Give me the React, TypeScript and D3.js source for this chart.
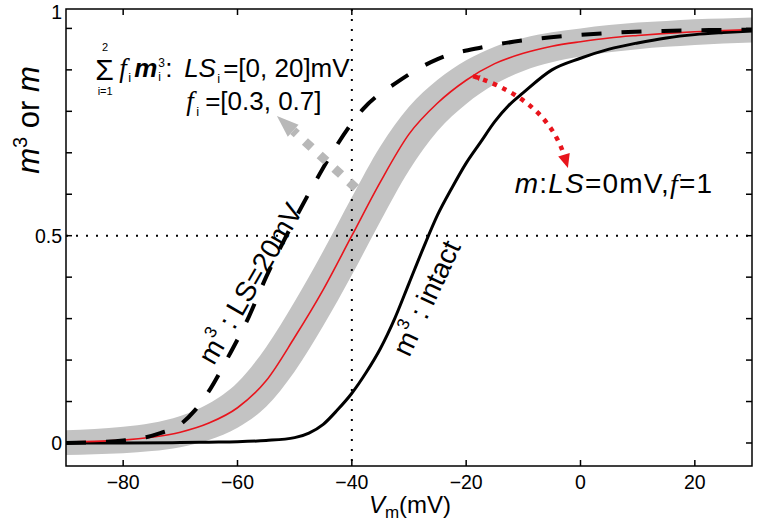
import React from "react";
import * as d3 from "d3";

// ---- data ----
const vGrid = [-90, -85, -80, -75, -70, -65, -60, -55, -50, -45, -40, -35, -30, -25, -20, -15, -10, -5, 0, 5, 10, 15, 20, 25, 30];
const mRed = [0.002, 0.004, 0.007, 0.014, 0.026, 0.048, 0.085, 0.15, 0.255, 0.37, 0.5, 0.63, 0.745, 0.82, 0.875, 0.915, 0.94, 0.957, 0.968, 0.977, 0.983, 0.988, 0.992, 0.995, 0.997];
const bandHigh = [0.031, 0.034, 0.039, 0.048, 0.065, 0.095, 0.146, 0.231, 0.341, 0.463, 0.593, 0.716, 0.811, 0.876, 0.923, 0.956, 0.977, 0.991, 1.0, 1.008, 1.014, 1.018, 1.022, 1.024, 1.026];
const bandLow = [-0.029, -0.027, -0.0245, -0.0195, -0.01, 0.007, 0.0365, 0.0875, 0.1725, 0.2825, 0.405, 0.535, 0.6575, 0.7525, 0.8175, 0.865, 0.8975, 0.9185, 0.9325, 0.9425, 0.95, 0.9555, 0.96, 0.9635, 0.966];

const vIntact = [-90, -80, -70, -65, -60, -55, -50, -47.5, -45, -42.5, -40, -37.5, -35, -32.5, -30, -27.5, -25, -22.5, -20, -17.5, -15, -12.5, -10, -5, 0, 5, 10, 15, 20, 25, 30];
const m3Intact = [0, 0, 0.001, 0.002, 0.003, 0.006, 0.013, 0.024, 0.045, 0.08, 0.12, 0.17, 0.228, 0.3, 0.385, 0.47, 0.55, 0.615, 0.675, 0.725, 0.775, 0.815, 0.845, 0.9, 0.928, 0.95, 0.965, 0.977, 0.985, 0.99, 0.994];

const vLS20 = [-90, -85, -80, -76, -73.5, -70.5, -67.5, -65, -62, -58, -55, -51, -47, -43, -38, -32, -25, -17, -9.5, -1.5, 6.5, 14.5, 22.5, 30];
const m3LS20 = [0, 0.002, 0.006, 0.014, 0.024, 0.04, 0.078, 0.125, 0.198, 0.305, 0.4, 0.512, 0.615, 0.71, 0.806, 0.871, 0.926, 0.955, 0.972, 0.983, 0.99, 0.994, 0.996, 0.997];

const xTicks = [-80, -60, -40, -20, 0, 20];
const yTicks = [0, 0.1, 0.2, 0.3, 0.4, 0.5, 0.6, 0.7, 0.8, 0.9, 1];
const yLabels = ["0", "0.5", "1"];

const W = 758, H = 532;
const L = 66, R = 752, T = 9, B = 466;

export default function App() {
  const x = d3.scaleLinear().domain([-90, 30]).range([L, R]);
  const y = d3.scaleLinear().domain([-0.0555, 1.0468]).range([B, T]);

  const lineXY = (vs: number[], ms: number[]) =>
    d3.line<number>().x((_, i) => x(vs[i])).y((d) => y(d)).curve(d3.curveMonotoneX)(ms) || "";

  const band = d3
    .area<number>()
    .x((d) => x(d))
    .y0((_, i) => y(bandLow[i]))
    .y1((_, i) => y(bandHigh[i]))
    .curve(d3.curveMonotoneX)(vGrid) || "";

  const sans = "'Liberation Sans', Arial, Helvetica, sans-serif";
  const serif = "'Liberation Serif', 'Times New Roman', serif";

  // arrows (data coords)
  const gA = { x: x(-39.3), y: y(0.615) };
  const gB = { x: x(-53.1), y: y(0.789) };
  const gdx = gB.x - gA.x, gdy = gB.y - gA.y;
  const glen = Math.hypot(gdx, gdy);
  const ux = gdx / glen, uy = gdy / glen;
  const headLen = 22, headW = 8;
  const gBase = { x: gB.x - ux * headLen, y: gB.y - uy * headLen };
  const gHead = `M${gB.x},${gB.y} L${gBase.x - uy * headW},${gBase.y + ux * headW} L${gBase.x + uy * headW},${gBase.y - ux * headW} Z`;

  const rS = { x: x(-18.8), y: y(0.885) };
  const rC = { x: x(-5.7), y: y(0.827) };
  const rE = { x: x(-2.2), y: y(0.663) };
  const rdx = rE.x - rC.x, rdy = rE.y - rC.y;
  const rl = Math.hypot(rdx, rdy);
  const rux = rdx / rl, ruy = rdy / rl;
  const rHL = 14, rHW = 6;
  const rBase = { x: rE.x - rux * rHL, y: rE.y - ruy * rHL };
  const rHead = `M${rE.x},${rE.y} L${rBase.x - ruy * rHW},${rBase.y + rux * rHW} L${rBase.x + ruy * rHW},${rBase.y - rux * rHW} Z`;
  const rPathEnd = { x: rE.x - rux * 10, y: rE.y - ruy * 10 };
  const sdx = rS.x - rC.x, sdy = rS.y - rC.y;
  const sl = Math.hypot(sdx, sdy);
  const sux = sdx / sl, suy = sdy / sl;
  const sBase = { x: rS.x - sux * 7, y: rS.y - suy * 7 };
  const sHead = `M${rS.x},${rS.y} L${sBase.x - suy * 3},${sBase.y + sux * 3} L${sBase.x + suy * 3},${sBase.y - sux * 3} Z`;

  const ls20 = { x: x(-57.8), y: y(0.385) };
  const intact = { x: x(-27.0), y: y(0.35) };
  const fx = x(-84.9), fy = y(0.883);
  const rl0 = { x: x(-11.5), y: y(0.603) };

  return (
    <svg width={W} height={H} style={{ display: "block", position: "absolute", left: 0, top: 0, background: "#fff" }}>
      <defs>
        <clipPath id="plot">
          <rect x={L} y={T} width={R - L} height={B - T} />
        </clipPath>
      </defs>
      <rect x={0} y={0} width={W} height={H} fill="#fff" />
      <g clipPath="url(#plot)">
        <path d={band} fill="#c3c3c3" stroke="none" />
        <line x1={x(-40)} x2={x(-40)} y1={T} y2={B} stroke="#000" strokeWidth={2} strokeDasharray="2,8" />
        <line x1={L} x2={R} y1={y(0.5)} y2={y(0.5)} stroke="#000" strokeWidth={2} strokeDasharray="2,8" />
        <path d={lineXY(vIntact, m3Intact)} fill="none" stroke="#000" strokeWidth={3} />
        <path d={lineXY(vGrid, mRed)} fill="none" stroke="#e8141c" strokeWidth={1.6} />
        <path d={lineXY(vLS20, m3LS20)} fill="none" stroke="#000" strokeWidth={4} strokeDasharray="20,20" />
      </g>

      {/* gray dotted arrow */}
      <line x1={gA.x} y1={gA.y} x2={gBase.x} y2={gBase.y} stroke="#b8b8b8" strokeWidth={9} strokeDasharray="9,11" />
      <path d={gHead} fill="#b8b8b8" />

      {/* red dotted arrow */}
      <path d={`M${rS.x},${rS.y} Q${rC.x},${rC.y} ${rPathEnd.x},${rPathEnd.y}`} fill="none" stroke="#e8141c" strokeWidth={4.5} strokeDasharray="4.5,6" />
      <path d={rHead} fill="#e8141c" />
      <path d={sHead} fill="#e8141c" />

      {/* frame */}
      <rect x={L} y={T} width={R - L} height={B - T} fill="none" stroke="#000" strokeWidth={1.5} />
      {xTicks.map((t) => (
        <g key={"xt" + t}>
          <line x1={x(t)} x2={x(t)} y1={B} y2={B - 6} stroke="#000" strokeWidth={1.5} />
          <line x1={x(t)} x2={x(t)} y1={T} y2={T + 6} stroke="#000" strokeWidth={1.5} />
          <text x={x(t)} y={489} textAnchor="middle" fontFamily={sans} fontSize={19.5}>
            {t < 0 ? "\u2212" + Math.abs(t) : String(t)}
          </text>
        </g>
      ))}
      {yTicks.map((t) => (
        <g key={"yt" + t}>
          <line x1={L} x2={L + 6} y1={y(t)} y2={y(t)} stroke="#000" strokeWidth={1.5} />
          <line x1={R} x2={R - 6} y1={y(t)} y2={y(t)} stroke="#000" strokeWidth={1.5} />
        </g>
      ))}
      <text x={62} y={y(0) + 7} textAnchor="end" fontFamily={sans} fontSize={19.5}>{yLabels[0]}</text>
      <text x={62} y={y(0.5) + 7} textAnchor="end" fontFamily={sans} fontSize={19.5}>{yLabels[1]}</text>
      <text x={62} y={T + 10} textAnchor="end" fontFamily={sans} fontSize={19.5}>{yLabels[2]}</text>

      {/* axis labels */}
      <text x={410} y={513} textAnchor="middle" fontFamily={sans} fontSize={24}>
        <tspan fontStyle="italic">V</tspan>
        <tspan fontSize={17} dy={5}>m</tspan>
        <tspan dy={-5}>(mV)</tspan>
      </text>
      <text transform={`translate(39,120) rotate(-90)`} textAnchor="middle" fontFamily={sans} fontSize={31}>
        <tspan fontStyle="italic">m</tspan>
        <tspan fontSize={20} dy={-12}>3</tspan>
        <tspan dy={12}> or </tspan>
        <tspan fontStyle="italic">m</tspan>
      </text>

      {/* rotated curve labels */}
      <text transform={`translate(${ls20.x},${ls20.y}) rotate(-60)`} textAnchor="middle" dominantBaseline="central" fontFamily={sans} fontSize={28}>
        <tspan>m</tspan>
        <tspan fontSize={17} dy={-10}>3</tspan>
        <tspan dy={10}> : LS=20mV</tspan>
      </text>
      <text transform={`translate(${intact.x},${intact.y}) rotate(-65)`} textAnchor="middle" dominantBaseline="central" fontFamily={sans} fontSize={28}>
        <tspan>m</tspan>
        <tspan fontSize={17} dy={-10}>3</tspan>
        <tspan dy={10}> : intact</tspan>
      </text>

      {/* formula annotation */}
      <g fontFamily={sans}>
        <text x={fx} y={fy + 3} fontSize={30}>Σ</text>
        <text x={fx + 10} y={fy - 26} fontSize={11} textAnchor="middle">2</text>
        <text x={fx + 10} y={fy + 18} fontSize={11} textAnchor="middle">i=1</text>
        <text x={fx + 24} y={fy} fontSize={27} fontFamily={serif} fontStyle="italic">f</text>
        <text x={fx + 33} y={fy + 5} fontSize={13}>i</text>
        <text x={fx + 39} y={fy} fontSize={26} fontWeight="bold" fontStyle="italic">m</text>
        <text x={fx + 63} y={fy - 10} fontSize={12}>3</text>
        <text x={fx + 63} y={fy + 4} fontSize={12}>i</text>
        <text x={fx + 70} y={fy} fontSize={26}>:</text>
        <text x={fx + 89} y={fy} fontSize={26} fontStyle="italic">LS</text>
        <text x={fx + 122} y={fy + 6} fontSize={13}>i</text>
        <text x={fx + 128} y={fy} fontSize={26}>=[0, 20]mV</text>
        <text x={fx + 91} y={fy + 33} fontSize={27} fontFamily={serif} fontStyle="italic">f</text>
        <text x={fx + 101} y={fy + 39} fontSize={13}>i</text>
        <text x={fx + 110} y={fy + 33} fontSize={26}>=[0.3, 0.7]</text>
      </g>

      {/* red curve label */}
      <text x={rl0.x} y={rl0.y} fontFamily={sans} fontSize={28} letterSpacing={1.2}>
        <tspan fontStyle="italic">m</tspan>
        <tspan>:</tspan>
        <tspan fontStyle="italic">LS</tspan>
        <tspan>=0mV,</tspan>
        <tspan fontFamily={serif} fontStyle="italic">f</tspan>
        <tspan>=1</tspan>
      </text>
    </svg>
  );
}
